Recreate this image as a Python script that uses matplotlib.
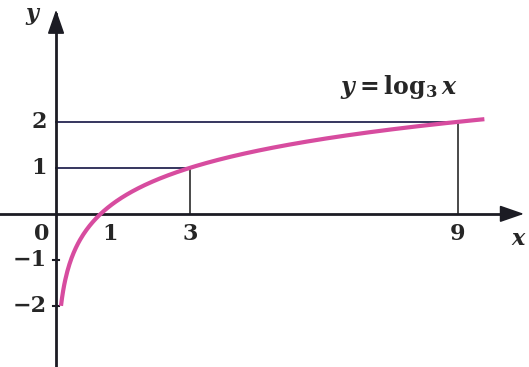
import numpy as np
import matplotlib.pyplot as plt
from matplotlib.patches import FancyArrowPatch

# Curve y = log_3 x and its guide points
x_curve = np.linspace(1 / 9, 9.6, 400)
y_curve = np.log(x_curve) / np.log(3)
guide_x = [3, 9]
guide_y = [1, 2]
x_tick_labels = ["1", "3", "9"]
x_tick_vals = [1, 3, 9]
y_tick_labels = ["2", "1", "\u22121", "\u22122"]
y_tick_vals = [2, 1, -1, -2]

plt.rcParams["font.family"] = ["DejaVu Serif"]
plt.rcParams["mathtext.fontset"] = "custom"
plt.rcParams["mathtext.rm"] = "DejaVu Serif:bold"
plt.rcParams["mathtext.it"] = "DejaVu Serif:italic:bold"

fig = plt.figure(figsize=(5.29, 3.67), dpi=100)
ax = fig.add_axes([0, 0, 1, 1])
ax.set_xlim(-1.256, 10.6)
ax.set_ylim(-3.33, 4.65)
ax.axis("off")

axis_col = "#1c1c24"
guide_col = "#35355e"
curve_col = "#d74c9f"
text_col = "#262626"

# Axes with slim arrowheads
ax.plot([-1.256, 10.3], [0, 0], color=axis_col, lw=2.0, zorder=3)
ax.plot([0, 0], [-3.4, 4.35], color=axis_col, lw=2.0, zorder=3)
ax.add_patch(FancyArrowPatch((10.0, 0), (10.55, 0), arrowstyle="-|>,head_length=7.5,head_width=2.6",
                             color=axis_col, lw=1.2, zorder=4, mutation_scale=2))
ax.add_patch(FancyArrowPatch((0, 4.0), (0, 4.5), arrowstyle="-|>,head_length=7.5,head_width=2.6",
                             color=axis_col, lw=1.2, zorder=4, mutation_scale=2))

# Guide lines
for gx, gy in zip(guide_x, guide_y):
    ax.plot([0, gx], [gy, gy], color=guide_col, lw=1.4, zorder=2)
    ax.plot([gx, gx], [0, gy], color="#4a4a4a", lw=1.4, zorder=2)

# Small ticks on negative y axis
for v in (-1, -2):
    ax.plot([-0.07, 0.07], [v, v], color=axis_col, lw=1.5, zorder=3)

# Curve
ax.plot(x_curve, y_curve, color=curve_col, lw=3.0, solid_capstyle="butt", zorder=5)

fs = 16
kw = dict(fontsize=fs, color=text_col, fontweight="bold")
for lab, v in zip(x_tick_labels, x_tick_vals):
    ax.text(v + (0.2 if v == 1 else 0), -0.2, lab, ha="center", va="top", **kw)
ax.text(-0.32, -0.2, "0", ha="center", va="top", **kw)
for lab, v in zip(y_tick_labels, y_tick_vals):
    ax.text(-0.2, v, lab, ha="right", va="center", **kw)

ax.text(10.38, -0.3, "$x$", ha="center", va="top", fontsize=fs, color=text_col)
ax.text(-0.5, 4.3, "$y$", ha="center", va="center", fontsize=fs, color=text_col)
ax.text(9.0, 2.75, r"$y = \mathrm{log}_3\, x$", ha="right", va="center", fontsize=17, color=text_col)

fig.savefig("out.png", dpi=100, facecolor="white")
